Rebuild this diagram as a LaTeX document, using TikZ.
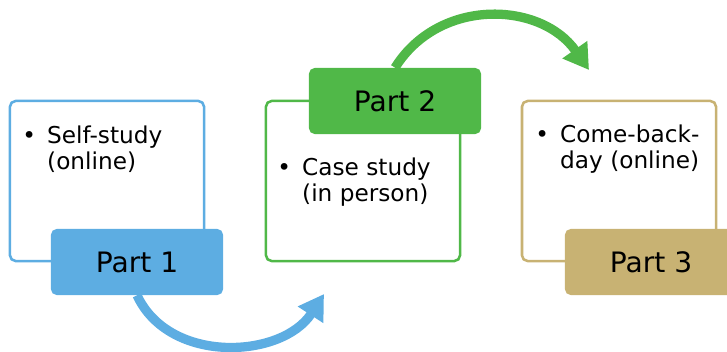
\documentclass[tikz,border=0pt]{standalone}
\usepackage{fontspec}
\setmainfont{DejaVu Sans}
\usetikzlibrary{arrows.meta, positioning}
\definecolor{partblue}{HTML}{5DADE2}
\definecolor{partgreen}{HTML}{50B848}
\definecolor{parttan}{HTML}{C8B273}

\begin{document}
\begin{tikzpicture}[x=0.025cm, y=0.025cm,
    box/.style={rectangle, rounded corners=4pt, line width=1.8pt,
                fill=white, minimum width=4.85cm, minimum height=4cm},
    part/.style={rectangle, rounded corners=4pt,
                 minimum width=4.3cm, minimum height=1.65cm,
                 font=\fontsize{20}{24}\selectfont},
    item/.style={anchor=base west, inner sep=0pt,
                 font=\fontsize{16.5}{18.8}\selectfont},
    swoop/.style={line width=6.6pt,
                  -{Triangle[length=0.62cm, width=0.72cm]}},
]
  \useasboundingbox (0,0) rectangle (727,351);

  % content boxes
  \node[box, draw=partblue]  (b1) at (107, 170) {};
  \node[box, draw=partgreen] (b2) at (363, 170) {};
  \node[box, draw=parttan]   (b3) at (619, 170) {};

  \node[item] (t1) at (22, 208)
    {\begin{tabular}[t]{@{}l@{\hspace{8pt}}l@{}}\textbullet & Self-study\\ & (online)\end{tabular}};
  \node[item] (t2) at (277, 176)
    {\begin{tabular}[t]{@{}l@{\hspace{8pt}}l@{}}\textbullet & Case study\\ & (in person)\end{tabular}};
  \node[item] (t3) at (535, 209)
    {\begin{tabular}[t]{@{}l@{\hspace{8pt}}l@{}}\textbullet & Come-back-\\ & day (online)\end{tabular}};

  % part labels
  \node[part, fill=partblue]  (p1) at (137, 89)  {Part 1};
  \node[part, fill=partgreen] (p2) at (395, 250) {Part 2};
  \node[part, fill=parttan]   (p3) at (651, 89)  {Part 3};

  % arrows between parts
  \coordinate (tip1) at (324, 57);
  \coordinate (tip2) at (589, 281);
  \draw[swoop, partblue]  (p1.south) to[out=-65, in=237, looseness=1.05] (tip1);
  \draw[swoop, partgreen] (p2.north) to[out=58, in=125, looseness=1.1] (tip2);

\end{tikzpicture}
\end{document}
